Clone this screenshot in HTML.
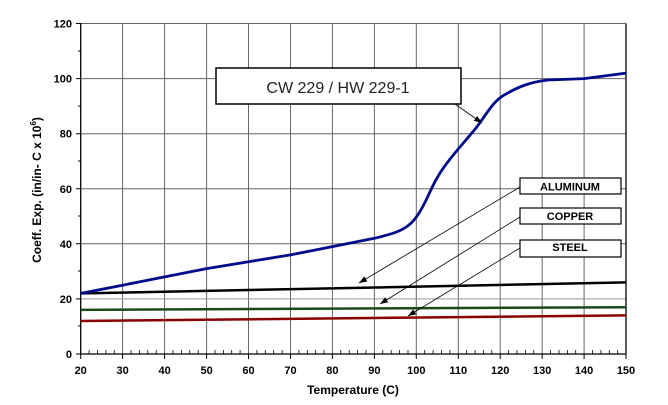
<!DOCTYPE html>
<html><head><meta charset="utf-8"><style>body{margin:0;background:#fff}svg{display:block}text{font-family:"Liberation Sans",sans-serif}</style></head><body>
<svg width="668" height="405" viewBox="0 0 668 405" xmlns="http://www.w3.org/2000/svg">
<defs><marker id="ah" markerWidth="8" markerHeight="6" refX="8" refY="3" orient="auto" markerUnits="userSpaceOnUse"><path d="M0,0 L8,3 L0,6 z" fill="#000"/></marker></defs>
<g stroke="#666" stroke-width="1">
<line x1="122.6" y1="23.5" x2="122.6" y2="354"/><line x1="164.6" y1="23.5" x2="164.6" y2="354"/><line x1="206.6" y1="23.5" x2="206.6" y2="354"/><line x1="248.5" y1="23.5" x2="248.5" y2="354"/><line x1="290.5" y1="23.5" x2="290.5" y2="354"/><line x1="332.4" y1="23.5" x2="332.4" y2="354"/><line x1="374.4" y1="23.5" x2="374.4" y2="354"/><line x1="416.3" y1="23.5" x2="416.3" y2="354"/><line x1="458.3" y1="23.5" x2="458.3" y2="354"/><line x1="500.2" y1="23.5" x2="500.2" y2="354"/><line x1="542.2" y1="23.5" x2="542.2" y2="354"/><line x1="584.1" y1="23.5" x2="584.1" y2="354"/>
<line x1="80.7" y1="23.5" x2="626" y2="23.5"/><line x1="80.7" y1="78.6" x2="626" y2="78.6"/><line x1="80.7" y1="133.7" x2="626" y2="133.7"/><line x1="80.7" y1="188.8" x2="626" y2="188.8"/><line x1="80.7" y1="243.8" x2="626" y2="243.8"/><line x1="80.7" y1="298.9" x2="626" y2="298.9" stroke="#999"/>
</g>
<g stroke="#000" stroke-width="1.3"><line x1="80.7" y1="23" x2="80.7" y2="354"/><line x1="80" y1="354" x2="626.5" y2="354"/><line x1="626" y1="23.5" x2="626" y2="354"/></g>
<g stroke="#000" stroke-width="1">
<path d="M76,23.5h5M76,78.6h5M76,133.7h5M76,188.8h5M76,243.8h5M76,298.9h5M76,354h5M78,51h3M78,106h3M78,161h3M78,216h3M78,271h3M78,326h3"/>
<path d="M80.7,354v5M122.6,354v5M164.6,354v5M206.6,354v5M248.5,354v5M290.5,354v5M332.4,354v5M374.4,354v5M416.3,354v5M458.3,354v5M500.2,354v5M542.2,354v5M584.1,354v5M626,354v5"/>
</g>
<g stroke="#000" stroke-width="0.8" id="mt"></g>
<g font-size="11" font-weight="bold" text-anchor="end" fill="#000">
<text x="72" y="27.5">120</text><text x="72" y="82.6">100</text><text x="72" y="137.7">80</text><text x="72" y="192.8">60</text><text x="72" y="247.8">40</text><text x="72" y="302.9">20</text><text x="72" y="358">0</text>
</g>
<g font-size="11" font-weight="bold" text-anchor="middle" fill="#000">
<text x="80.7" y="374">20</text><text x="122.6" y="374">30</text><text x="164.6" y="374">40</text><text x="206.6" y="374">50</text><text x="248.5" y="374">60</text><text x="290.5" y="374">70</text><text x="332.4" y="374">80</text><text x="374.4" y="374">90</text><text x="416.3" y="374">100</text><text x="458.3" y="374">110</text><text x="500.2" y="374">120</text><text x="542.2" y="374">130</text><text x="584.1" y="374">140</text><text x="626" y="374">150</text>
<text x="353" y="394" font-size="12">Temperature (C)</text>
</g>
<text transform="translate(41,190) rotate(-90)" font-size="12" font-weight="bold" text-anchor="middle">Coeff. Exp. (in/in- C x 10<tspan font-size="8" dy="-5">6</tspan><tspan dy="5">)</tspan></text>
<polyline fill="none" stroke="#8b0000" stroke-width="2.5" points="80.7,321 626,315.4"/>
<polyline fill="none" stroke="#1a4a1a" stroke-width="2.5" points="80.7,309.9 626,307.2"/>
<polyline fill="none" stroke="#000" stroke-width="2.5" points="80.7,293.4 626,282.4"/>
<path fill="none" stroke="#000c8c" stroke-width="2.8" d="M80.7,293.4 L122.6,285.2 L164.6,276.9 L206.6,268.6 L248.5,261.7 L290.5,254.9 L332.4,246.6 L374.4,238.3 C392,234 405,231 414,220 C424,208 430,190 437,178 C446,162 462,145 476,128 C488,112 494,100 506,94 C518,87 530,82 548,80 L584.1,78.6 L626,73.1"/>
<rect x="216" y="68" width="245" height="36" fill="#fff" stroke="#000" stroke-width="1.5"/>
<text x="338" y="93" font-size="16" text-anchor="middle" fill="#222">CW 229 / HW 229-1</text>
<line x1="455" y1="104" x2="482" y2="123" stroke="#000" stroke-width="0.8" marker-end="url(#ah)"/>
<g stroke="#000" stroke-width="0.8" marker-end="url(#ah)">
<line x1="520" y1="187" x2="359" y2="283"/>
<line x1="520" y1="217" x2="380" y2="304"/>
<line x1="520" y1="248" x2="408" y2="316"/>
</g>
<g fill="#fff" stroke="#000" stroke-width="1.2">
<rect x="520" y="178" width="101" height="16"/><rect x="520" y="208" width="101" height="16"/><rect x="520" y="240" width="101" height="17"/>
</g>
<g font-size="11" font-weight="bold" text-anchor="middle" fill="#000">
<text x="570" y="190.5">ALUMINUM</text><text x="570" y="220">COPPER</text><text x="570" y="251">STEEL</text>
</g>
<path stroke="#000" stroke-width="0.8" d="M89.1,354v-4M97.5,354v-4M105.9,354v-4M114.2,354v-4M131,354v-4M139.4,354v-4M147.8,354v-4M156.2,354v-4M173,354v-4M181.4,354v-4M189.8,354v-4M198.2,354v-4M215,354v-4M223.4,354v-4M231.7,354v-4M240.1,354v-4M256.9,354v-4M265.3,354v-4M273.7,354v-4M282.1,354v-4M298.9,354v-4M307.3,354v-4M315.7,354v-4M324,354v-4M340.8,354v-4M349.2,354v-4M357.6,354v-4M366,354v-4M382.8,354v-4M391.2,354v-4M399.6,354v-4M408,354v-4M424.7,354v-4M433.1,354v-4M441.5,354v-4M449.9,354v-4M466.7,354v-4M475.1,354v-4M483.5,354v-4M491.8,354v-4M508.6,354v-4M517,354v-4M525.4,354v-4M533.8,354v-4M550.6,354v-4M559,354v-4M567.4,354v-4M575.7,354v-4M592.5,354v-4M600.9,354v-4M609.3,354v-4M617.7,354v-4"/>
</svg>
</body></html>
